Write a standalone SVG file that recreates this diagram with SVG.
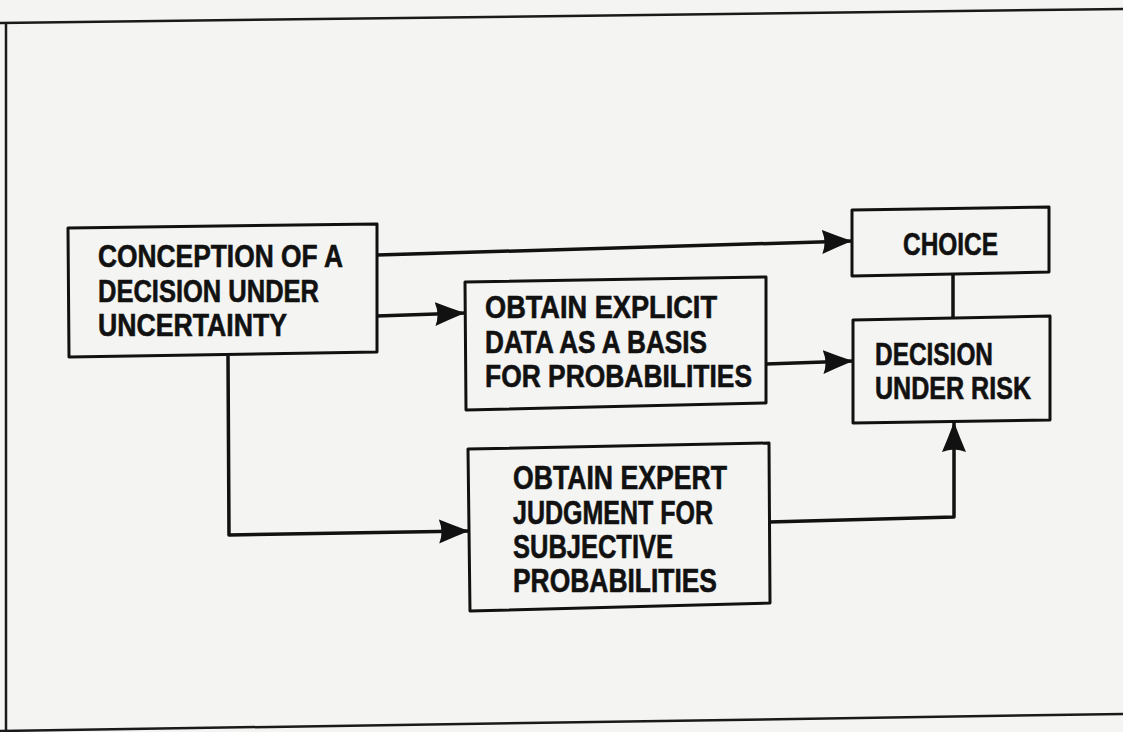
<svg xmlns="http://www.w3.org/2000/svg" width="1123" height="732" viewBox="0 0 1123 732">
<style>
.bg{fill:#f4f4f2}
.frame{fill:none;stroke:#1a1a1a;stroke-width:2.5}
.box{fill:none;stroke:#111;stroke-width:3;stroke-linejoin:round}
.con{fill:none;stroke:#111;stroke-width:3.5;stroke-linejoin:round}
.t{font-family:"Liberation Sans",Arial,sans-serif;font-weight:bold;font-size:31px;fill:#111;stroke:#111;stroke-width:0.6}
.tl{font-size:33px}
</style>
<defs>
<marker id="arr" markerUnits="userSpaceOnUse" markerWidth="34" markerHeight="28" refX="30" refY="12" orient="auto">
<path d="M0,0 Q14,6 30,12 Q14,18 0,24 Q5,12 0,0 z" fill="#111"/>
</marker>
</defs>
<rect class="bg" x="0" y="0" width="1123" height="732"/>
<g id="frame">
<path class="frame" d="M0,23 L1123,9"/>
<path class="frame" d="M6,22 L6,732"/>
<path class="frame" d="M0,731 L1123,714"/>
</g>
<g id="connectors">
<path class="con" d="M377,255 L852,241" marker-end="url(#arr)"/>
<path class="con" d="M377,316 L465,313" marker-end="url(#arr)"/>
<path class="con" d="M766,364 L853,361" marker-end="url(#arr)"/>
<path class="con" d="M953,274 L953,318"/>
<path class="con" d="M228,356 L229,535 L469,531" marker-end="url(#arr)"/>
<path class="con" d="M769,522 L954,517 L954,422" marker-end="url(#arr)"/>
</g>
<g id="conception">
<path class="box" d="M68,228 L377,224 L377,352 L69,357 Z"/>
<text class="t" x="98" y="267" textLength="245" lengthAdjust="spacingAndGlyphs">CONCEPTION OF A</text>
<text class="t" x="98" y="302" textLength="221" lengthAdjust="spacingAndGlyphs">DECISION UNDER</text>
<text class="t" x="98" y="336" textLength="189" lengthAdjust="spacingAndGlyphs">UNCERTAINTY</text>
</g>
<g id="explicit">
<path class="box" d="M465,282 L766,277 L766,403 L466,410 Z"/>
<text class="t" x="485" y="318" textLength="232" lengthAdjust="spacingAndGlyphs">OBTAIN EXPLICIT</text>
<text class="t" x="485" y="353" textLength="222" lengthAdjust="spacingAndGlyphs">DATA AS A BASIS</text>
<text class="t" x="485" y="387" textLength="267" lengthAdjust="spacingAndGlyphs">FOR PROBABILITIES</text>
</g>
<g id="choice">
<path class="box" d="M852,210 L1049,207 L1049,272 L852,276 Z"/>
<text class="t" x="903" y="255" textLength="95" lengthAdjust="spacingAndGlyphs">CHOICE</text>
</g>
<g id="decision">
<path class="box" d="M853,320 L1050,316 L1050,420 L853,423 Z"/>
<text class="t" x="875" y="365" textLength="118" lengthAdjust="spacingAndGlyphs">DECISION</text>
<text class="t" x="875" y="399" textLength="156" lengthAdjust="spacingAndGlyphs">UNDER RISK</text>
</g>
<g id="expert">
<path class="box" d="M468,449 L769,443 L770,603 L470,611 Z"/>
<text class="t tl" x="513" y="489" textLength="214" lengthAdjust="spacingAndGlyphs">OBTAIN EXPERT</text>
<text class="t tl" x="513" y="524" textLength="200" lengthAdjust="spacingAndGlyphs">JUDGMENT FOR</text>
<text class="t tl" x="513" y="558" textLength="160" lengthAdjust="spacingAndGlyphs">SUBJECTIVE</text>
<text class="t tl" x="513" y="592" textLength="204" lengthAdjust="spacingAndGlyphs">PROBABILITIES</text>
</g>
</svg>
